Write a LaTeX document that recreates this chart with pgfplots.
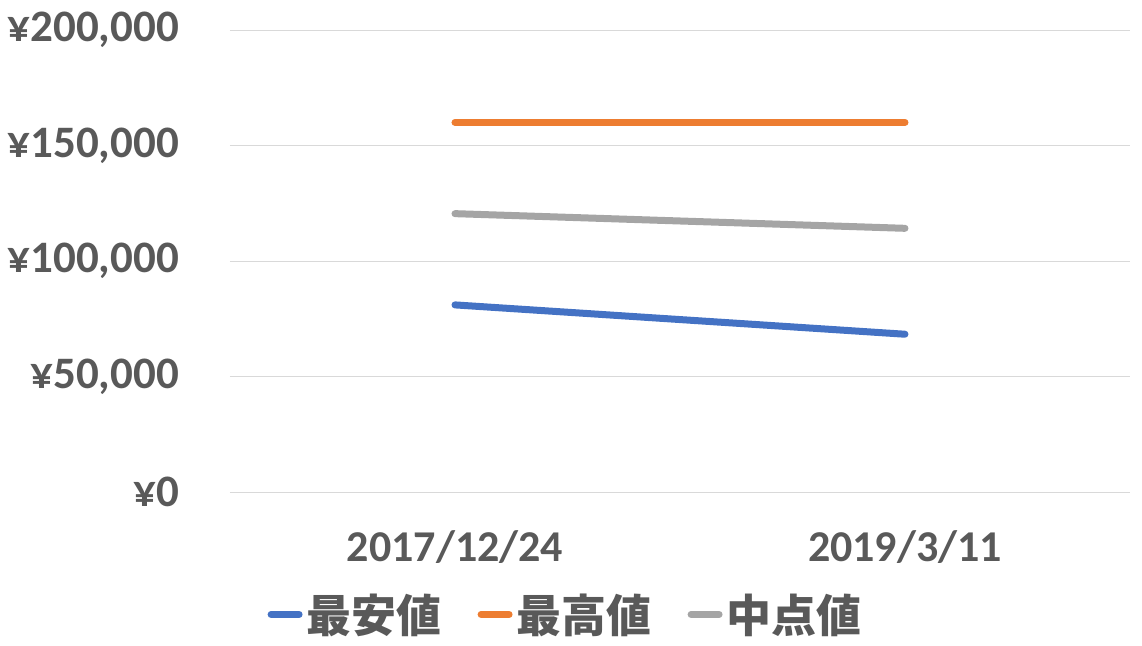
\documentclass[border=0pt]{standalone}
\usepackage{fontspec}
\setmainfont{Carlito}
\newfontfamily\cjk{Noto Sans CJK JP}
\usepackage{pgfplots}
\pgfplotsset{compat=1.18}
\definecolor{xlblue}{HTML}{4472C4}
\definecolor{xlorange}{HTML}{ED7D31}
\definecolor{xlgray}{HTML}{A5A5A5}
\definecolor{xltext}{HTML}{595959}
\definecolor{xlgrid}{HTML}{D9D9D9}
\begin{document}
\begin{tikzpicture}
\useasboundingbox (-115pt,-76.5pt) rectangle (456pt,246pt);
\begin{axis}[
  at={(0pt,0pt)}, anchor=south west,
  scale only axis, width=450pt, height=231pt,
  xmin=-0.5, xmax=1.5, ymin=0, ymax=200000,
  axis line style={draw=none},
  major tick length=0pt,
  xtick={0,1}, xticklabels={2017/12/24, 2019/3/11},
  ytick={0,50000,100000,150000,200000},
  yticklabels={{¥0},{¥50,000},{¥100,000},{¥150,000},{¥200,000}},
  scaled y ticks=false,
  ymajorgrids, grid style={xlgrid, line width=0.5pt},
  tick label style={font=\fontsize{22}{24}\selectfont\bfseries, text=xltext},
  yticklabel style={xshift=-22pt, font=\fontsize{22.5}{24}\selectfont\bfseries},
  xticklabel style={yshift=-16pt},
  legend columns=3,
  legend style={draw=none, fill=none, at={(0.374,-0.265)}, anchor=center,
    font=\fontsize{22.5}{24}\selectfont\cjk\bfseries, text=xltext,
    /tikz/every even column/.append style={column sep=16pt},
    inner sep=0pt},
  legend image code/.code={\draw[#1, line cap=round] (0pt,0pt) -- (14pt,0pt);},
  every axis plot/.append style={line width=3.5pt, line cap=round, mark=none},
]
\addplot[xlblue] coordinates {(0,81000) (1,68300)};
\addlegendentry{最安値}
\addplot[xlorange] coordinates {(0,160000) (1,160000)};
\addlegendentry{最高値}
\addplot[xlgray] coordinates {(0,120500) (1,114150)};
\addlegendentry{中点値}
\end{axis}
\end{tikzpicture}
\end{document}
